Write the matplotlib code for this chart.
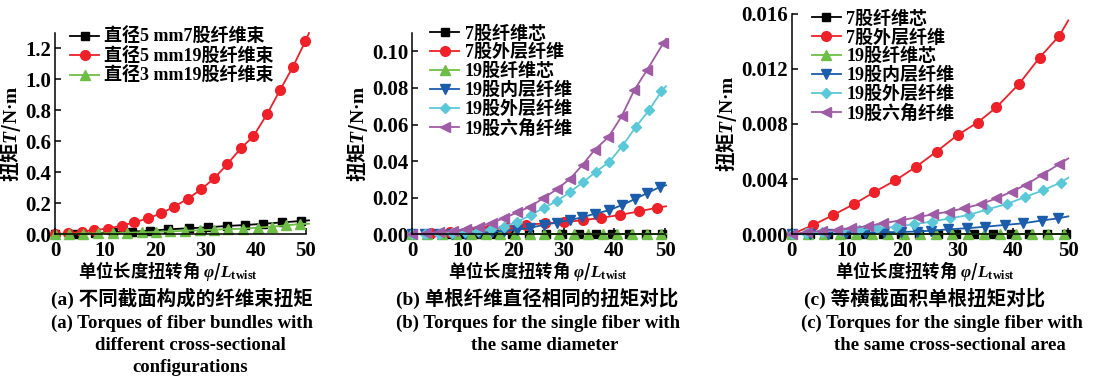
import matplotlib
matplotlib.use("Agg")
import matplotlib.pyplot as plt

plt.rcParams['font.family'] = ['Liberation Serif', 'Noto Sans CJK SC', 'DejaVu Sans']
plt.rcParams['font.weight'] = 'bold'
plt.rcParams['mathtext.fontset'] = 'custom'
plt.rcParams['mathtext.it'] = 'Liberation Serif:italic:bold'
plt.rcParams['mathtext.rm'] = 'Liberation Serif:bold'

# ---------------- data ----------------
# panel (a)
a_labels = ['直径5 mm7股纤维束', '直径5 mm19股纤维束', '直径3 mm19股纤维束']
a_black_x = [0, 4.0, 8.0, 11.6, 15.3, 18.9, 22.6, 26.6, 30.4, 34.3, 37.9, 41.5, 45.3, 49.0, 50.6]
a_black_y = [0, 0.004, 0.008, 0.013, 0.017, 0.023, 0.032, 0.039, 0.045, 0.054, 0.060, 0.068, 0.077, 0.086, 0.090]
a_red_x = [0, 2.66, 5.4, 7.8, 10.6, 13.3, 15.8, 18.5, 21.1, 23.7, 26.4, 29.1, 31.7, 34.3, 37.0,
           39.5, 42.2, 44.9, 47.4, 49.9, 50.6]
a_red_y = [0, 0.006, 0.017, 0.028, 0.037, 0.056, 0.077, 0.103, 0.135, 0.178, 0.228, 0.290, 0.361,
           0.452, 0.555, 0.632, 0.774, 0.935, 1.082, 1.249, 1.300]
a_green_x = [0, 2.8, 5.6, 8.5, 11.5, 14.3, 17.3, 20.1, 23.0, 25.9, 28.9, 31.7, 34.5, 37.5, 40.4,
             43.2, 46.0, 48.8, 50.6]
a_green_y = [0, 0.002, 0.005, 0.006, 0.007, 0.010, 0.013, 0.015, 0.019, 0.023, 0.026, 0.030, 0.034,
             0.036, 0.043, 0.049, 0.058, 0.066, 0.068]

# panels (b) and (c)
bc_labels = ['7股纤维芯', '7股外层纤维', '19股纤维芯', '19股内层纤维', '19股外层纤维', '19股六角纤维']

b_black_x = [0, 3.3, 6.6, 9.9, 13.2, 16.5, 19.8, 23.1, 26.4, 29.7, 33.0, 36.3, 39.6, 42.9, 46.2, 49.5, 50.2]
b_black_y = [0] * 17
b_red_x = [0, 3.7, 7.5, 11.3, 15.0, 18.7, 22.5, 26.3, 30.0, 33.7, 37.4, 41.1, 44.8, 48.4, 50.2]
b_red_y = [0, 0.0005, 0.0011, 0.0018, 0.0025, 0.0036, 0.0052, 0.0060, 0.0066, 0.0077, 0.0090,
           0.0106, 0.0125, 0.0145, 0.0153]
b_green_x = [0, 2.9, 5.8, 8.7, 11.6, 14.5, 17.4, 20.3, 23.2, 26.1, 29.0, 31.9, 34.8, 37.7, 40.6,
             43.5, 46.4, 49.3, 50.2]
b_green_y = [0] * 19
b_blue_x = [0, 2.6, 5.2, 7.8, 10.4, 13.1, 15.7, 18.2, 20.8, 23.3, 26.0, 28.6, 31.3, 33.6, 36.2,
            38.9, 41.5, 44.0, 46.4, 49.0, 50.2]
b_blue_y = [0, 0.0002, 0.0001, 0.0, 0.0002, 0.0005, 0.0014, 0.0018, 0.0025, 0.0036, 0.0051, 0.0064,
            0.0078, 0.0093, 0.0113, 0.0131, 0.0160, 0.0192, 0.0224, 0.0259, 0.0268]
b_cyan_x = [0, 2.6, 5.2, 7.8, 10.4, 13.0, 15.6, 18.2, 20.8, 23.4, 26.0, 28.6, 31.2, 33.8, 36.4,
            39.0, 41.6, 44.2, 46.8, 49.3, 50.2]
b_cyan_y = [0, 0.0002, 0.0004, 0.0006, 0.0012, 0.0018, 0.0027, 0.0042, 0.0068, 0.0105, 0.0145,
            0.0181, 0.0231, 0.0285, 0.0343, 0.0396, 0.0484, 0.0586, 0.0677, 0.0781, 0.0810]
b_purple_x = [0, 2.7, 5.3, 8.0, 10.6, 13.1, 15.7, 18.2, 20.8, 23.3, 25.9, 28.6, 31.2, 33.7, 36.1,
              38.8, 41.4, 43.9, 46.5, 49.7, 50.2]
b_purple_y = [0, 0.0005, 0.0011, 0.0020, 0.0027, 0.0042, 0.0064, 0.0088, 0.0120, 0.0151, 0.0197,
              0.0246, 0.0303, 0.0380, 0.0462, 0.0531, 0.0644, 0.0787, 0.0900, 0.1046, 0.1068]

c_black_x = [0, 3.3, 6.6, 9.9, 13.2, 16.5, 19.8, 23.1, 26.4, 29.7, 33.0, 36.3, 39.6, 42.9, 46.2, 49.5, 50.0]
c_black_y = [0] * 17
c_red_x = [0, 3.9, 7.5, 11.3, 14.9, 18.7, 22.5, 26.2, 30.0, 33.6, 37.0, 41.1, 44.8, 48.4, 50.0]
c_red_y = [0, 0.00068, 0.0014, 0.0022, 0.00305, 0.0039, 0.0049, 0.0060, 0.0072, 0.0081, 0.0092,
           0.0109, 0.0128, 0.0144, 0.0155]
c_green_x = [0, 2.9, 5.8, 8.7, 11.6, 14.5, 17.4, 20.3, 23.2, 26.1, 29.0, 31.9, 34.8, 37.7, 40.6,
             43.5, 46.4, 49.3, 50.0]
c_green_y = [0] * 19
c_blue_x = [0, 3.3, 6.6, 9.9, 13.2, 16.7, 19.7, 22.7, 25.1, 28.3, 31.7, 35.0, 38.6, 41.9, 45.2, 48.2, 50.0]
c_blue_y = [0, 0.00002, 0.00005, 0.00007, 0.0001, 0.00015, 0.00017, 0.0002, 0.00026, 0.00036,
            0.00044, 0.00055, 0.00068, 0.0008, 0.0010, 0.00116, 0.0013]
c_cyan_x = [0, 2.5, 5.5, 8.9, 12.2, 15.5, 18.8, 22.1, 25.4, 28.7, 32.0, 35.3, 38.9, 42.2, 45.5, 48.6, 50.0]
c_cyan_y = [0, 0.0001, 0.0002, 0.00026, 0.0003, 0.00044, 0.00055, 0.00073, 0.00092, 0.00116,
            0.0014, 0.0018, 0.0022, 0.0027, 0.0032, 0.00375, 0.0041]
c_purple_x = [0, 2.7, 5.4, 8.1, 10.8, 13.8, 16.5, 19.5, 22.8, 25.5, 28.4, 31.2, 34.3, 37.0, 39.8,
              42.4, 45.2, 48.4, 50.0]
c_purple_y = [0, 0.00015, 0.00024, 0.0003, 0.00044, 0.0006, 0.0008, 0.0010, 0.00124, 0.00145,
              0.00164, 0.00189, 0.0022, 0.0026, 0.0031, 0.0036, 0.0043, 0.0051, 0.0055]

x_ticks = [0, 10, 20, 30, 40, 50]
a_yticks = [0.0, 0.2, 0.4, 0.6, 0.8, 1.0, 1.2]
b_yticks = [0.00, 0.02, 0.04, 0.06, 0.08, 0.10]
c_yticks = [0.000, 0.004, 0.008, 0.012, 0.016]

# ---------------- styles ----------------
C_BLACK = '#000000'
C_RED = '#ee2028'
C_GREEN = '#6dbe45'
C_BLUE = '#1b5cab'
C_CYAN = '#5ac8d8'
C_PURPLE = '#a05ba6'

styles6 = [(C_BLACK, 's', 5.5), (C_RED, 'o', 7), (C_GREEN, '^', 7),
           (C_BLUE, 'v', 7), (C_CYAN, 'D', 5.5), (C_PURPLE, '<', 7)]

W, H = 1101, 380
fig = plt.figure(figsize=(W / 100, H / 100), dpi=100)


def axes_px(left, right, top, bottom):
    return fig.add_axes([left / W, (H - bottom) / H, (right - left) / W, (bottom - top) / H])


ax_a = axes_px(55, 306, 33, 234.3)
ax_b = axes_px(412.3, 665, 33, 234.3)
ax_c = axes_px(791.7, 1068.3, 13.5, 234.3)


def plot_series(ax, xs, ys, color, marker, ms, label):
    n = len(xs) - 1
    ax.plot(xs, ys, color=color, lw=1.3, marker=marker, ms=ms, markevery=list(range(n)),
            mec=color, mfc=color, label=label, clip_on=False)


def style_axes(ax, yticks, ylim, fmt):
    ax.set_xlim(0, 50)
    ax.set_ylim(*ylim)
    ax.set_xticks(x_ticks)
    ax.set_yticks(yticks)
    ax.set_yticklabels([fmt.format(v) for v in yticks])
    ax.spines['top'].set_visible(False)
    ax.spines['right'].set_visible(False)
    for s in ('left', 'bottom'):
        ax.spines[s].set_linewidth(1.1)
    ax.tick_params(direction='in', length=4, width=1.1, labelsize=15)
    ax.tick_params(axis='x', pad=5)
    ax.tick_params(axis='y', pad=3)
    ax.set_ylabel('扭矩$\\mathit{T}$/$\\mathrm{N·m}$', fontsize=14,
                  fontfamily='Noto Sans CJK SC', fontweight='bold', labelpad=1)


# panel a
plot_series(ax_a, a_black_x, a_black_y, C_BLACK, 's', 5.5, a_labels[0])
plot_series(ax_a, a_red_x, a_red_y, C_RED, 'o', 7, a_labels[1])
plot_series(ax_a, a_green_x, a_green_y, C_GREEN, '^', 7, a_labels[2])
style_axes(ax_a, a_yticks, (0, 1.3), '{:.1f}')

# panel b
b_series = [(b_black_x, b_black_y), (b_red_x, b_red_y), (b_green_x, b_green_y),
            (b_blue_x, b_blue_y), (b_cyan_x, b_cyan_y), (b_purple_x, b_purple_y)]
for (xs, ys), (col, mk, ms), lab in zip(b_series, styles6, bc_labels):
    plot_series(ax_b, xs, ys, col, mk, ms, lab)
style_axes(ax_b, b_yticks, (0, 0.11), '{:.2f}')

# panel c
c_series = [(c_black_x, c_black_y), (c_red_x, c_red_y), (c_green_x, c_green_y),
            (c_blue_x, c_blue_y), (c_cyan_x, c_cyan_y), (c_purple_x, c_purple_y)]
for (xs, ys), (col, mk, ms), lab in zip(c_series, styles6, bc_labels):
    plot_series(ax_c, xs, ys, col, mk, ms, lab)
style_axes(ax_c, c_yticks, (0, 0.016), '{:.3f}')

leg_kw = dict(loc='upper left', frameon=False, fontsize=13, borderpad=0, borderaxespad=0,
              labelspacing=0.08, handlelength=1.6, handletextpad=0.3)
ax_a.legend(bbox_to_anchor=(0.06, 1.025), **leg_kw)
ax_b.legend(bbox_to_anchor=(0.071, 1.04), **leg_kw)
ax_c.legend(bbox_to_anchor=(0.073, 1.015), **leg_kw)

# x labels and captions
xlabel = '单位长度扭转角 $\\mathit{\\varphi}$/$\\mathit{L}_{\\mathrm{twist}}$'
centers = [168, 538, 925]
for cx in centers:
    fig.text(cx / W, 1 - 271 / H, xlabel, ha='center', va='center', fontsize=12.5,
             fontfamily='Noto Sans CJK SC', fontweight='bold')

cap_cn = ['(a) 不同截面构成的纤维束扭矩', '(b) 单根纤维直径相同的扭矩对比', '(c) 等横截面积单根扭矩对比']
cap_cn_x = [182, 537, 925]
for cx, t in zip(cap_cn_x, cap_cn):
    fig.text(cx / W, 1 - 298 / H, t, ha='center', va='center', fontsize=14)

cap_en = [['(a) Torques of fiber bundles with', 'different cross-sectional', 'configurations'],
          ['(b) Torques for the single fiber with', 'the same diameter'],
          ['(c) Torques for the single fiber with', 'the same cross-sectional area']]
cap_en_x = [[182, 190, 190], [538, 545], [942, 950]]
rows_y = [323, 345, 367]
for xs, lines in zip(cap_en_x, cap_en):
    for cx, yy, t in zip(xs, rows_y, lines):
        fig.text(cx / W, 1 - yy / H, t, ha='center', va='center', fontsize=13.5)

fig.savefig('out.png', dpi=100)
